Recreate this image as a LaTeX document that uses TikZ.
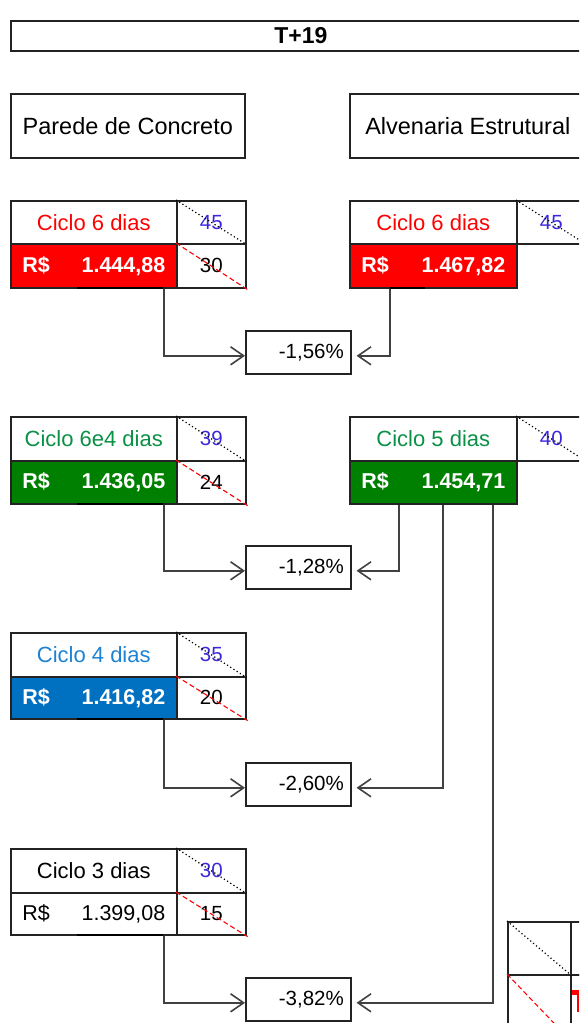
\documentclass[tikz,border=0pt]{standalone}
\usepackage{fontspec}
\setmainfont{Liberation Sans}
\usetikzlibrary{arrows.meta}
\definecolor{cred}{RGB}{255,0,0}
\definecolor{cgreen}{RGB}{0,128,0}
\definecolor{cblue}{RGB}{0,112,192}
\definecolor{tgreen}{RGB}{10,145,70}
\definecolor{tblue}{RGB}{30,130,210}
\definecolor{numblue}{RGB}{60,40,220}
\definecolor{conngray}{RGB}{65,65,65}
\definecolor{bordergray}{RGB}{35,35,35}
\begin{document}
\begin{tikzpicture}[x=1pt,y=-1pt,
  cell/.style={draw=bordergray, line width=1.6pt, inner sep=0pt, anchor=north west},
  headfont/.style={font=\fontsize{23.5}{26}\selectfont},
  labfont/.style={font=\fontsize{22}{26}\selectfont},
  valcell/.style={cell, minimum width=166pt, text width=143pt, inner xsep=11.5pt, font=\fontsize{21.5}{26}\selectfont\bfseries},
  numcell/.style={cell, minimum width=69pt, font=\fontsize{20.5}{24}\selectfont},
  pctbox/.style={cell, minimum width=105pt, minimum height=43pt, text width=91pt, inner xsep=7pt, align=right, font=\fontsize{20.5}{24}\selectfont},
  dotdiag/.style={draw=black, dash pattern=on 1.2pt off 2.6pt, line width=1.2pt},
  reddiag/.style={draw=cred, dash pattern=on 5pt off 3pt, line width=1.1pt},
  conn/.style={draw=conngray, line width=1.8pt, -{Straight Barb[length=13pt,width=18pt,line width=1.6pt]}},
  thickseg/.style={draw=black, line width=2.8pt}
]
\useasboundingbox (0,0) rectangle (579,1023);
\clip (0,0) rectangle (579,1023);
\fill[white] (0,0) rectangle (579,1023);

% headers
\node[cell, minimum width=580pt, minimum height=30pt, font=\fontsize{23}{26}\selectfont\bfseries] (title) at (10,20) {T+19};
\node[cell, minimum width=234pt, minimum height=64pt, headfont] (hpc) at (10,93) {Parede de Concreto};
\node[cell, minimum width=236pt, minimum height=64pt, headfont] (hae) at (349,93) {Alvenaria Estrutural};

% ---- Parede de Concreto: Ciclo 6 dias
\node[cell, minimum width=166pt, minimum height=43pt, labfont, text=cred] (a1) at (10,200) {Ciclo 6 dias};
\node[valcell, minimum height=44pt, fill=cred, text=white] (a1v) at (10,243) {R\$\hfill 1.444,88};
\node[numcell, minimum height=43pt, text=numblue] (a1n) at (176,200) {45};
\node[numcell, minimum height=44pt] (a1m) at (176,243) {30};
\draw[dotdiag] (a1n.north west) -- (a1n.south east);
\draw[reddiag] (a1m.north west) -- ([shift={(1pt,-1pt)}]a1m.south east);
\draw[thickseg] (77,288) -- (163,288);

% ---- Alvenaria: Ciclo 6 dias
\node[cell, minimum width=167pt, minimum height=43pt, labfont, text=cred] (b1) at (349,200) {Ciclo 6 dias};
\node[valcell, minimum width=167pt, text width=144pt, minimum height=44pt, fill=cred, text=white] (b1v) at (349,243) {R\$\hfill 1.467,82};
\node[numcell, minimum height=43pt, text=numblue] (b1n) at (516,200) {45};
\draw[dotdiag] (b1n.north west) -- (b1n.south east);
\draw[thickseg] (390,288) -- (425,288);

% ---- -1,56%
\node[pctbox] (p1) at (245,330) {-1,56\%};
\draw[conn] ([xshift=-14pt]a1v.south east) |- ([yshift=-3.5pt]p1.west);
\draw[conn] ([xshift=41pt]b1v.south west) |- ([xshift=5pt,yshift=-3.5pt]p1.east);

% ---- Parede de Concreto: Ciclo 6e4 dias
\node[cell, minimum width=166pt, minimum height=44pt, labfont, text=tgreen] (a2) at (10,416) {Ciclo 6e4 dias};
\node[valcell, minimum height=43pt, fill=cgreen, text=white] (a2v) at (10,460) {R\$\hfill 1.436,05};
\node[numcell, minimum height=44pt, text=numblue] (a2n) at (176,416) {39};
\node[numcell, minimum height=43pt] (a2m) at (176,460) {24};
\draw[dotdiag] (a2n.north west) -- (a2n.south east);
\draw[reddiag] (a2m.north west) -- ([shift={(1pt,-1pt)}]a2m.south east);
\draw[thickseg] (77,504) -- (163,504);

% ---- Alvenaria: Ciclo 5 dias
\node[cell, minimum width=167pt, minimum height=44pt, labfont, text=tgreen] (b2) at (349,416) {Ciclo 5 dias};
\node[valcell, minimum width=167pt, text width=144pt, minimum height=43pt, fill=cgreen, text=white] (b2v) at (349,460) {R\$\hfill 1.454,71};
\node[numcell, minimum height=44pt, text=numblue] (b2n) at (516,416) {40};
\draw[dotdiag] (b2n.north west) -- (b2n.south east);

% ---- -1,28%
\node[pctbox] (p2) at (245,545) {-1,28\%};
\draw[conn] ([xshift=-14pt]a2v.south east) |- ([yshift=-3.5pt]p2.west);
\draw[conn] ([xshift=50pt]b2v.south west) |- ([xshift=5pt,yshift=-3.5pt]p2.east);

% ---- Ciclo 4 dias
\node[cell, minimum width=166pt, minimum height=44pt, labfont, text=tblue] (a3) at (10,632) {Ciclo 4 dias};
\node[valcell, minimum height=42pt, fill=cblue, text=white] (a3v) at (10,676) {R\$\hfill 1.416,82};
\node[numcell, minimum height=44pt, text=numblue] (a3n) at (176,632) {35};
\node[numcell, minimum height=42pt] (a3m) at (176,676) {20};
\draw[dotdiag] (a3n.north west) -- (a3n.south east);
\draw[reddiag] (a3m.north west) -- ([shift={(1pt,-1pt)}]a3m.south east);
\draw[thickseg] (77,719) -- (163,719);

% ---- -2,60%
\node[pctbox] (p3) at (245,762) {-2,60\%};
\draw[conn] ([xshift=-14pt]a3v.south east) |- ([yshift=-3.5pt]p3.west);
\draw[conn] ([xshift=94pt]b2v.south west) |- ([xshift=5pt,yshift=-3.5pt]p3.east);

% ---- Ciclo 3 dias
\node[cell, minimum width=166pt, minimum height=44pt, labfont, text=black] (a4) at (10,848) {Ciclo 3 dias};
\node[valcell, minimum height=42pt, font=\fontsize{21.5}{26}\selectfont, text=black] (a4v) at (10,892) {R\$\hfill 1.399,08};
\node[numcell, minimum height=44pt, text=numblue] (a4n) at (176,848) {30};
\node[numcell, minimum height=42pt] (a4m) at (176,892) {15};
\draw[dotdiag] (a4n.north west) -- (a4n.south east);
\draw[reddiag] (a4m.north west) -- ([shift={(1pt,-1pt)}]a4m.south east);
\draw[thickseg] (77,935) -- (163,935);

% ---- -3,82%
\node[pctbox] (p4) at (245,977) {-3,82\%};
\draw[conn] ([xshift=-14pt]a4v.south east) |- ([yshift=-3.5pt]p4.west);
\draw[conn] ([xshift=144pt]b2v.south west) |- ([xshift=5pt,yshift=-3.5pt]p4.east);

% ---- partial table bottom right
\node[cell, minimum width=63pt, minimum height=53pt] (c1) at (507,921) {};
\node[cell, minimum width=63pt, minimum height=53pt] (c2) at (570,921) {};
\node[cell, minimum width=63pt, minimum height=70pt] (c3) at (507,974) {};
\node[cell, minimum width=63pt, minimum height=70pt] (c4) at (570,974) {};
\draw[dotdiag] (c1.north west) -- (c1.south east);
\draw[reddiag] (c3.north west) -- ([shift={(0pt,4pt)}]c3.south east);
\fill[cred] (572,990) rectangle (579,994.5);
\fill[cred] (576.5,994.5) rectangle (579,1012);
\end{tikzpicture}
\end{document}
